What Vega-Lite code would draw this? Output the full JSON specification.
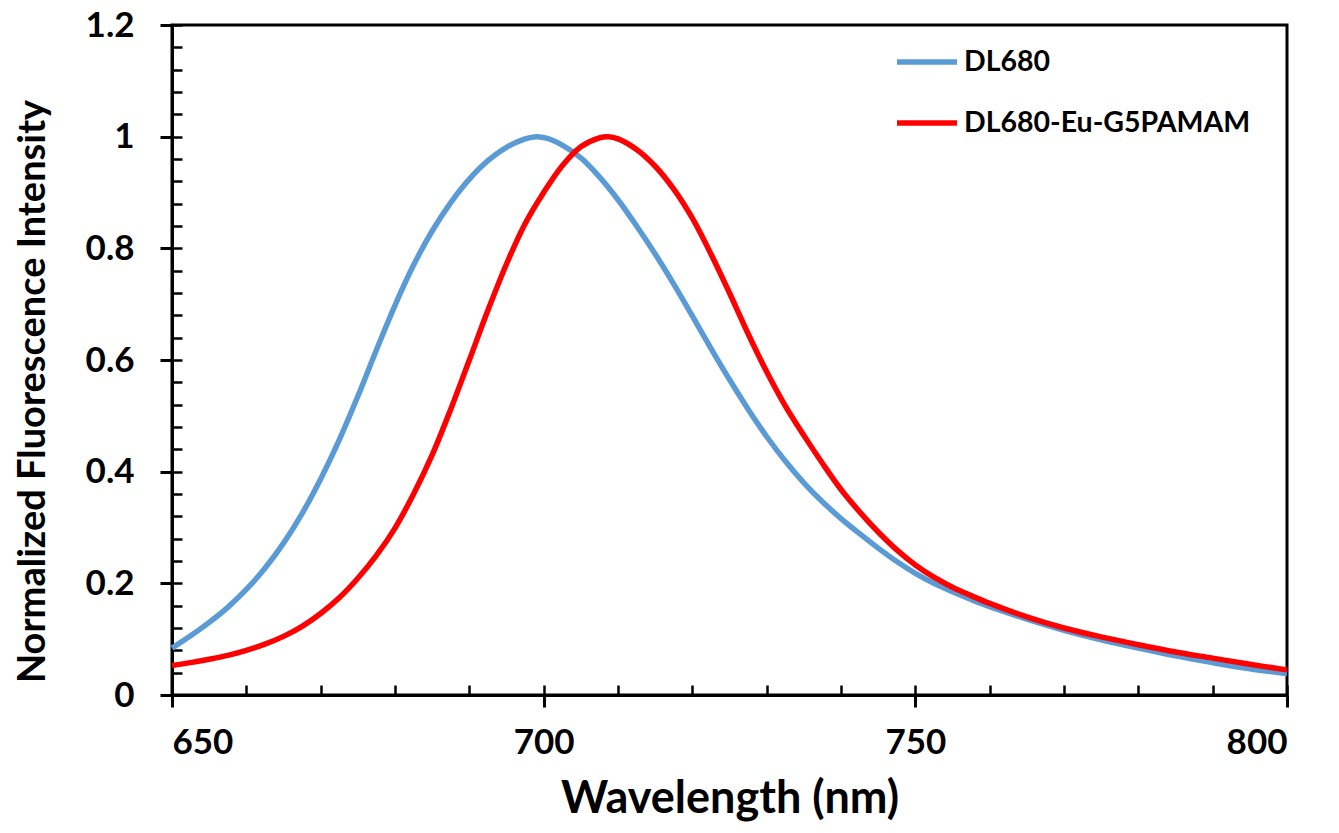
{
  "$schema": "https://vega.github.io/schema/vega-lite/v6.json",
  "width": 1115,
  "height": 670,
  "autosize": "none",
  "padding": {"left": 172, "top": 25, "right": 52, "bottom": 138},
  "background": "white",
  "config": {
    "view": {"stroke": "black", "strokeWidth": 3},
    "font": "Lato"
  },
  "data": {
    "values": [
      {"wavelength": 650, "intensity": 0.084, "series": "DL680"},
      {"wavelength": 652.5, "intensity": 0.106, "series": "DL680"},
      {"wavelength": 655, "intensity": 0.13, "series": "DL680"},
      {"wavelength": 657.5, "intensity": 0.157, "series": "DL680"},
      {"wavelength": 660, "intensity": 0.189, "series": "DL680"},
      {"wavelength": 662.5, "intensity": 0.227, "series": "DL680"},
      {"wavelength": 665, "intensity": 0.272, "series": "DL680"},
      {"wavelength": 667.5, "intensity": 0.325, "series": "DL680"},
      {"wavelength": 670, "intensity": 0.387, "series": "DL680"},
      {"wavelength": 672.5, "intensity": 0.457, "series": "DL680"},
      {"wavelength": 675, "intensity": 0.535, "series": "DL680"},
      {"wavelength": 677.5, "intensity": 0.618, "series": "DL680"},
      {"wavelength": 680, "intensity": 0.698, "series": "DL680"},
      {"wavelength": 682.5, "intensity": 0.77, "series": "DL680"},
      {"wavelength": 685, "intensity": 0.831, "series": "DL680"},
      {"wavelength": 687.5, "intensity": 0.882, "series": "DL680"},
      {"wavelength": 690, "intensity": 0.924, "series": "DL680"},
      {"wavelength": 692.5, "intensity": 0.957, "series": "DL680"},
      {"wavelength": 695, "intensity": 0.981, "series": "DL680"},
      {"wavelength": 697.5, "intensity": 0.996, "series": "DL680"},
      {"wavelength": 699, "intensity": 1.0, "series": "DL680"},
      {"wavelength": 700.5, "intensity": 0.997, "series": "DL680"},
      {"wavelength": 702.5, "intensity": 0.985, "series": "DL680"},
      {"wavelength": 705, "intensity": 0.962, "series": "DL680"},
      {"wavelength": 707.5, "intensity": 0.928, "series": "DL680"},
      {"wavelength": 710, "intensity": 0.887, "series": "DL680"},
      {"wavelength": 712.5, "intensity": 0.84, "series": "DL680"},
      {"wavelength": 715, "intensity": 0.79, "series": "DL680"},
      {"wavelength": 717.5, "intensity": 0.736, "series": "DL680"},
      {"wavelength": 720, "intensity": 0.679, "series": "DL680"},
      {"wavelength": 722.5, "intensity": 0.621, "series": "DL680"},
      {"wavelength": 725, "intensity": 0.565, "series": "DL680"},
      {"wavelength": 727.5, "intensity": 0.512, "series": "DL680"},
      {"wavelength": 730, "intensity": 0.463, "series": "DL680"},
      {"wavelength": 732.5, "intensity": 0.419, "series": "DL680"},
      {"wavelength": 735, "intensity": 0.38, "series": "DL680"},
      {"wavelength": 737.5, "intensity": 0.346, "series": "DL680"},
      {"wavelength": 740, "intensity": 0.316, "series": "DL680"},
      {"wavelength": 742.5, "intensity": 0.289, "series": "DL680"},
      {"wavelength": 745, "intensity": 0.263, "series": "DL680"},
      {"wavelength": 747.5, "intensity": 0.239, "series": "DL680"},
      {"wavelength": 750, "intensity": 0.218, "series": "DL680"},
      {"wavelength": 752.5, "intensity": 0.2, "series": "DL680"},
      {"wavelength": 755, "intensity": 0.185, "series": "DL680"},
      {"wavelength": 757.5, "intensity": 0.171, "series": "DL680"},
      {"wavelength": 760, "intensity": 0.158, "series": "DL680"},
      {"wavelength": 765, "intensity": 0.136, "series": "DL680"},
      {"wavelength": 770, "intensity": 0.116, "series": "DL680"},
      {"wavelength": 775, "intensity": 0.099, "series": "DL680"},
      {"wavelength": 780, "intensity": 0.084, "series": "DL680"},
      {"wavelength": 785, "intensity": 0.07, "series": "DL680"},
      {"wavelength": 790, "intensity": 0.058, "series": "DL680"},
      {"wavelength": 795, "intensity": 0.047, "series": "DL680"},
      {"wavelength": 800, "intensity": 0.038, "series": "DL680"},
      {"wavelength": 650, "intensity": 0.053, "series": "DL680-Eu-G5PAMAM"},
      {"wavelength": 652.5, "intensity": 0.058, "series": "DL680-Eu-G5PAMAM"},
      {"wavelength": 655, "intensity": 0.064, "series": "DL680-Eu-G5PAMAM"},
      {"wavelength": 657.5, "intensity": 0.071, "series": "DL680-Eu-G5PAMAM"},
      {"wavelength": 660, "intensity": 0.08, "series": "DL680-Eu-G5PAMAM"},
      {"wavelength": 662.5, "intensity": 0.091, "series": "DL680-Eu-G5PAMAM"},
      {"wavelength": 665, "intensity": 0.105, "series": "DL680-Eu-G5PAMAM"},
      {"wavelength": 667.5, "intensity": 0.123, "series": "DL680-Eu-G5PAMAM"},
      {"wavelength": 670, "intensity": 0.146, "series": "DL680-Eu-G5PAMAM"},
      {"wavelength": 672.5, "intensity": 0.174, "series": "DL680-Eu-G5PAMAM"},
      {"wavelength": 675, "intensity": 0.209, "series": "DL680-Eu-G5PAMAM"},
      {"wavelength": 677.5, "intensity": 0.25, "series": "DL680-Eu-G5PAMAM"},
      {"wavelength": 680, "intensity": 0.299, "series": "DL680-Eu-G5PAMAM"},
      {"wavelength": 682.5, "intensity": 0.36, "series": "DL680-Eu-G5PAMAM"},
      {"wavelength": 685, "intensity": 0.43, "series": "DL680-Eu-G5PAMAM"},
      {"wavelength": 687.5, "intensity": 0.512, "series": "DL680-Eu-G5PAMAM"},
      {"wavelength": 690, "intensity": 0.6, "series": "DL680-Eu-G5PAMAM"},
      {"wavelength": 692.5, "intensity": 0.689, "series": "DL680-Eu-G5PAMAM"},
      {"wavelength": 695, "intensity": 0.772, "series": "DL680-Eu-G5PAMAM"},
      {"wavelength": 697.5, "intensity": 0.844, "series": "DL680-Eu-G5PAMAM"},
      {"wavelength": 700, "intensity": 0.9, "series": "DL680-Eu-G5PAMAM"},
      {"wavelength": 702.5, "intensity": 0.948, "series": "DL680-Eu-G5PAMAM"},
      {"wavelength": 705, "intensity": 0.982, "series": "DL680-Eu-G5PAMAM"},
      {"wavelength": 707.5, "intensity": 0.998, "series": "DL680-Eu-G5PAMAM"},
      {"wavelength": 708.7, "intensity": 1.0, "series": "DL680-Eu-G5PAMAM"},
      {"wavelength": 710, "intensity": 0.996, "series": "DL680-Eu-G5PAMAM"},
      {"wavelength": 712.5, "intensity": 0.977, "series": "DL680-Eu-G5PAMAM"},
      {"wavelength": 715, "intensity": 0.947, "series": "DL680-Eu-G5PAMAM"},
      {"wavelength": 717.5, "intensity": 0.906, "series": "DL680-Eu-G5PAMAM"},
      {"wavelength": 720, "intensity": 0.854, "series": "DL680-Eu-G5PAMAM"},
      {"wavelength": 722.5, "intensity": 0.79, "series": "DL680-Eu-G5PAMAM"},
      {"wavelength": 725, "intensity": 0.72, "series": "DL680-Eu-G5PAMAM"},
      {"wavelength": 727.5, "intensity": 0.647, "series": "DL680-Eu-G5PAMAM"},
      {"wavelength": 730, "intensity": 0.579, "series": "DL680-Eu-G5PAMAM"},
      {"wavelength": 732.5, "intensity": 0.518, "series": "DL680-Eu-G5PAMAM"},
      {"wavelength": 735, "intensity": 0.465, "series": "DL680-Eu-G5PAMAM"},
      {"wavelength": 737.5, "intensity": 0.415, "series": "DL680-Eu-G5PAMAM"},
      {"wavelength": 740, "intensity": 0.368, "series": "DL680-Eu-G5PAMAM"},
      {"wavelength": 742.5, "intensity": 0.328, "series": "DL680-Eu-G5PAMAM"},
      {"wavelength": 745, "intensity": 0.292, "series": "DL680-Eu-G5PAMAM"},
      {"wavelength": 747.5, "intensity": 0.26, "series": "DL680-Eu-G5PAMAM"},
      {"wavelength": 750, "intensity": 0.233, "series": "DL680-Eu-G5PAMAM"},
      {"wavelength": 752.5, "intensity": 0.211, "series": "DL680-Eu-G5PAMAM"},
      {"wavelength": 755, "intensity": 0.193, "series": "DL680-Eu-G5PAMAM"},
      {"wavelength": 757.5, "intensity": 0.178, "series": "DL680-Eu-G5PAMAM"},
      {"wavelength": 760, "intensity": 0.164, "series": "DL680-Eu-G5PAMAM"},
      {"wavelength": 765, "intensity": 0.14, "series": "DL680-Eu-G5PAMAM"},
      {"wavelength": 770, "intensity": 0.12, "series": "DL680-Eu-G5PAMAM"},
      {"wavelength": 775, "intensity": 0.104, "series": "DL680-Eu-G5PAMAM"},
      {"wavelength": 780, "intensity": 0.09, "series": "DL680-Eu-G5PAMAM"},
      {"wavelength": 785, "intensity": 0.077, "series": "DL680-Eu-G5PAMAM"},
      {"wavelength": 790, "intensity": 0.066, "series": "DL680-Eu-G5PAMAM"},
      {"wavelength": 795, "intensity": 0.055, "series": "DL680-Eu-G5PAMAM"},
      {"wavelength": 800, "intensity": 0.045, "series": "DL680-Eu-G5PAMAM"}
    ]
  },
  "layer": [
    {
      "mark": {"type": "line", "opacity": 0},
      "encoding": {
        "x": {
          "field": "wavelength", "type": "quantitative",
          "scale": {"domain": [650, 800], "nice": false, "zero": false},
          "axis": {
            "orient": "bottom",
            "values": [650, 660, 670, 680, 690, 700, 710, 720, 730, 740, 750, 760, 770, 780, 790, 800],
            "tickSize": -10, "tickWidth": 2.5, "tickColor": "black",
            "labels": false, "domain": false, "grid": false, "title": null
          }
        },
        "y": {
          "field": "intensity", "type": "quantitative",
          "scale": {"domain": [0, 1.2], "nice": false},
          "axis": {
            "orient": "left",
            "values": [0, 0.04, 0.08, 0.12, 0.16, 0.2, 0.24, 0.28, 0.32, 0.36, 0.4, 0.44, 0.48, 0.52, 0.56, 0.6, 0.64, 0.68, 0.72, 0.76, 0.8, 0.84, 0.88, 0.92, 0.96, 1.0, 1.04, 1.08, 1.12, 1.16, 1.2],
            "tickSize": -10, "tickWidth": 2.5, "tickColor": "black",
            "labels": false, "domain": false, "grid": false, "title": null
          }
        }
      }
    },
    {
      "mark": {"type": "line", "strokeWidth": 5.5, "interpolate": "catmull-rom"},
      "encoding": {
        "x": {
          "field": "wavelength", "type": "quantitative",
          "scale": {"domain": [650, 800], "nice": false, "zero": false},
          "axis": {
            "orient": "bottom",
            "values": [650, 700, 750, 800],
            "title": "Wavelength (nm)",
            "grid": false,
            "domainColor": "black", "domainWidth": 3,
            "tickColor": "black", "tickWidth": 3, "tickSize": 12,
            "labelFont": "Lato", "labelFontWeight": "bold", "labelFontSize": 35, "labelColor": "black",
            "labelPadding": 18,
            "titleFont": "Lato", "titleFontWeight": "bold", "titleFontSize": 45, "titleColor": "black",
            "titlePadding": 16
          }
        },
        "y": {
          "field": "intensity", "type": "quantitative",
          "scale": {"domain": [0, 1.2], "nice": false},
          "axis": {
            "orient": "left",
            "values": [0, 0.2, 0.4, 0.6, 0.8, 1.0, 1.2],
            "format": ".1~f",
            "title": "Normalized Fluorescence Intensity",
            "grid": false,
            "domainColor": "black", "domainWidth": 3,
            "tickColor": "black", "tickWidth": 3, "tickSize": 12,
            "labelFont": "Lato", "labelFontWeight": "bold", "labelFontSize": 35, "labelColor": "black",
            "labelPadding": 26,
            "titleFont": "Lato", "titleFontWeight": "bold", "titleFontSize": 38, "titleColor": "black",
            "titlePadding": 33,
            "titleY": 366
          }
        },
        "color": {
          "field": "series", "type": "nominal",
          "scale": {"domain": ["DL680", "DL680-Eu-G5PAMAM"], "range": ["#5B9BD5", "#FF0000"]},
          "legend": {
            "orient": "none",
            "legendX": 722,
            "legendY": 4,
            "title": null,
            "symbolType": "stroke",
            "symbolSize": 3600,
            "symbolStrokeWidth": 5.5,
            "rowPadding": 13,
            "labelOffset": 4,
            "labelLimit": 0,
            "labelFont": "Lato", "labelFontWeight": "bold", "labelFontSize": 28.5, "labelColor": "black"
          }
        }
      }
    }
  ],
  "resolve": {"axis": {"x": "independent", "y": "independent"}}
}
